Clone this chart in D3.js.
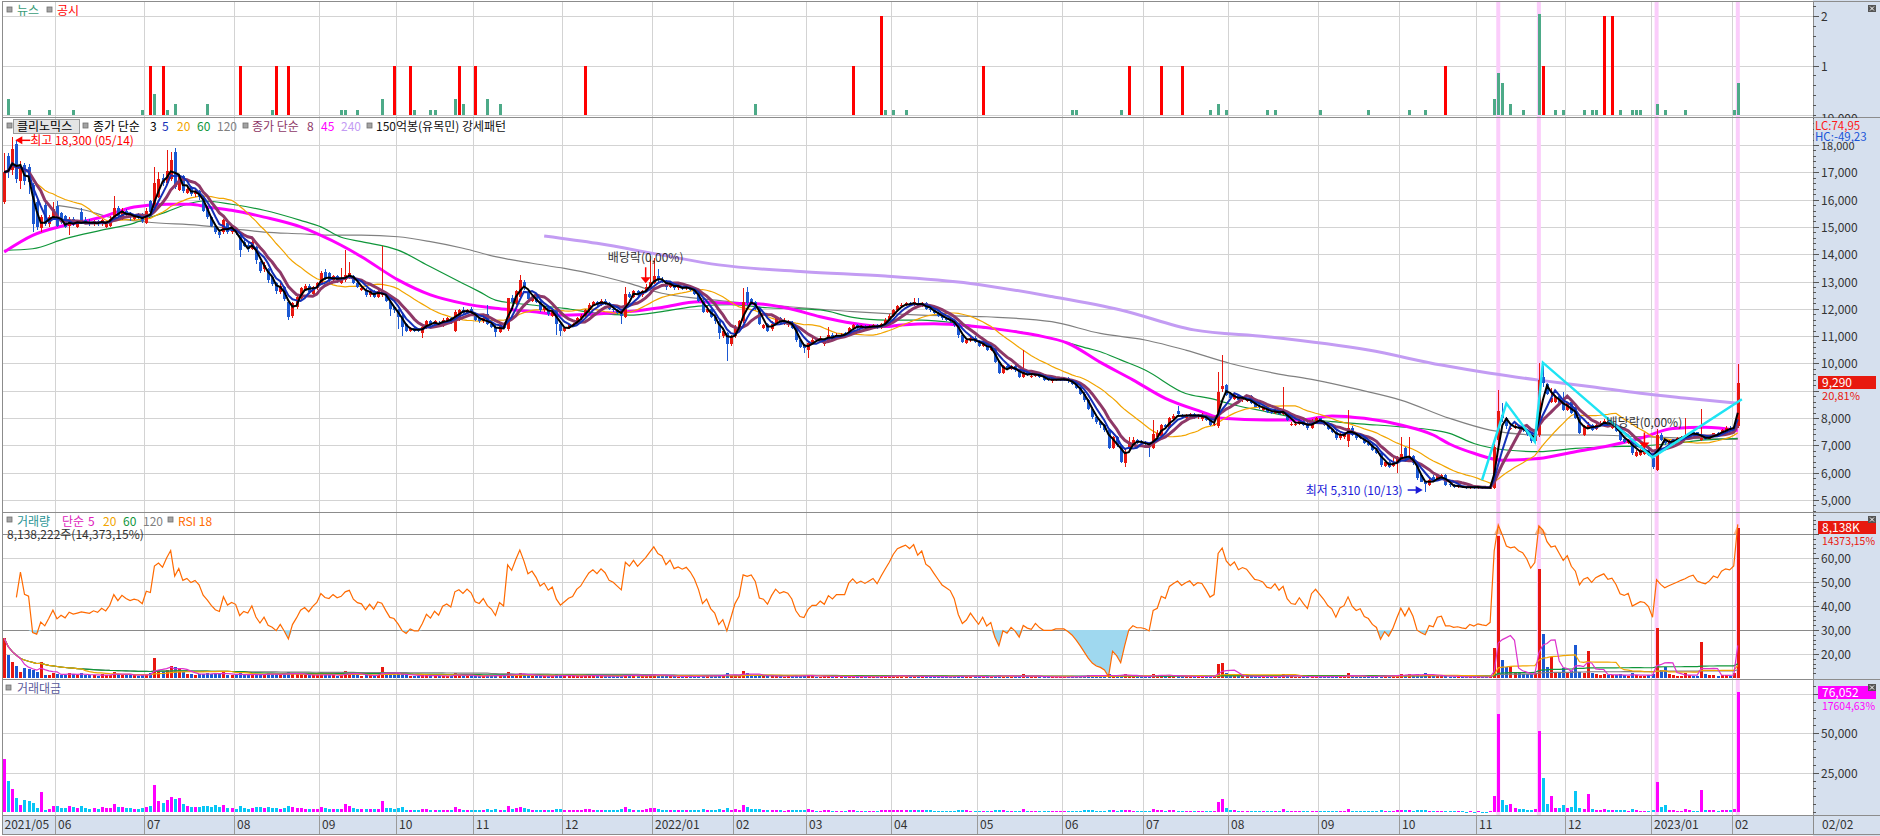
<!DOCTYPE html>
<html><head><meta charset="utf-8">
<script src="https://cdn.jsdelivr.net/npm/d3@7"></script>
<style>
html,body{margin:0;padding:0;background:#fff;overflow:hidden}
svg{display:block;font-family:"Noto Sans CJK KR","Noto Sans",sans-serif}
</style></head><body>
<svg id="c" width="1880" height="836"></svg>
<script>
// ---------------- DATA ----------------
const monthLabels = ["2021/05","06","07","08","09","10","11","12","2022/01","02","03","04","05","06","07","08","09","10","11","12","2023/01","02"];
const monthStarts = [0,13,35,57,78,97,116,138,160,180,198,219,240,261,281,302,324,344,363,385,406,426];
const lastDateLabel = "02/02";

// daily candles [open, high, low, close]
const ohlc = [
// 2021/05
[15900,17700,15850,17000],[17600,17700,16800,17100],[17100,18300,16900,17850],[18050,18200,16600,16750],[16700,17400,16400,17200],[17250,17350,16550,16700],[17200,17300,16200,16650],[16550,16600,14800,15100],[15900,16000,14900,15000],[14950,15450,14800,15350],[15800,15900,15050,15100],[15100,15450,15000,15350],[15350,15900,15300,15650],
// 06
[15750,15950,15000,15050],[15500,15550,15100,15200],[15400,15450,14950,15000],[15050,15350,14700,15250],[15300,15350,15050,15100],[15000,15200,14950,15150],[15550,15700,15100,15200],[15250,15350,15100,15150],[15150,15300,15050,15100],[15100,15250,15050,15200],[15200,15250,15050,15100],[15100,15300,15050,15250],[15000,15150,14950,15100],[15050,15400,15000,15300],[15300,16150,15250,15700],[15700,15750,15350,15400],[15300,15700,15250,15600],[15600,15650,15400,15450],[15500,15550,15200,15350],[15300,15450,15250,15400],[15400,15500,15300,15350],[15450,15500,15150,15200],
// 07
[15150,15700,15100,15600],[15950,16000,15500,15550],[15700,17200,15650,16600],[16100,17000,16050,16750],[16800,16950,16500,16600],[16600,17800,16550,17050],[16750,17750,16700,17450],[17750,17900,16400,16450],[16350,16900,16300,16850],[16850,16900,16250,16300],[16250,16500,16200,16400],[16450,16500,16150,16200],[16200,16400,16100,16300],[16300,16350,16000,16100],[16050,16100,15550,15600],[15700,15750,15300,15350],[15350,15400,15000,15050],[15050,15100,14750,14800],[14800,14900,14600,14700],[14800,15300,14750,15250],[15150,15200,14750,14800],[14800,15000,14750,14900],
// 08
[14900,14950,14700,14800],[14700,14750,13900,14150],[14450,14550,14250,14300],[14350,14400,14100,14200],[14200,14550,14150,14450],[14250,14300,13650,13800],[13700,13750,13300,13400],[13450,13700,13350,13600],[13450,13500,12950,13050],[13150,13200,12850,12900],[12950,13000,12550,12650],[12600,12950,12550,12850],[12800,12850,12300,12350],[12250,12300,11600,11700],[11750,12250,11650,12200],[12050,12500,12000,12450],[12400,12800,12350,12750],[12700,12900,12650,12850],[12850,12900,12550,12600],[12550,12850,12500,12800],[12750,13000,12700,12950],
// 09
[12950,13400,12900,13300],[13350,13450,13050,13100],[13300,13350,12950,13050],[13050,13250,13000,13200],[13200,13250,12950,13050],[12950,13500,12900,13100],[13050,14150,13000,13250],[13150,13700,13100,13300],[13200,13250,12900,12950],[12950,13000,12750,12800],[12700,12850,12650,12750],[12700,12750,12450,12500],[12500,12700,12450,12650],[12650,12700,12400,12450],[12450,12700,12400,12650],[12500,14300,12450,12600],[12500,12550,12250,12300],[12250,12300,11750,12000],[12050,12100,11850,11950],
// 10
[11950,12000,11250,11700],[11750,11800,11000,11350],[11450,11500,11150,11200],[11200,11350,11150,11300],[11300,11350,11150,11200],[11250,11300,11150,11200],[11100,11400,10950,11350],[11300,11600,11250,11550],[11550,11600,11350,11400],[11400,11600,11350,11550],[11500,11550,11350,11400],[11400,11650,11350,11600],[11550,11700,11500,11650],[11650,11700,11450,11550],[11200,11950,11150,11900],[11600,12000,11550,11950],[11950,12050,11800,11850],[11850,12000,11800,11950],[12000,12050,11800,11850],
// 11
[11800,11850,11550,11600],[11650,11700,11500,11550],[11550,11700,11500,11650],[11800,12150,11400,11450],[11450,11500,11300,11350],[11350,11400,10980,11150],[11150,11450,11100,11400],[11400,11450,11250,11300],[11250,12400,11200,12400],[12400,12500,12200,12250],[12200,12700,12150,12650],[12450,13250,12400,13050],[13000,13050,12700,12750],[12600,12650,12300,12350],[12300,12500,12250,12450],[12450,12500,12200,12250],[12250,12300,11900,11950],[11950,12100,11900,12050],[12050,12100,11750,11800],[11750,12000,11700,11900],[11950,12000,11050,11450],[11450,11500,11000,11200],
// 12
[11200,11350,11150,11300],[11300,11450,11250,11400],[11400,11500,11350,11450],[11450,11700,11400,11650],[11650,11800,11600,11750],[11750,12000,11700,11950],[11950,12200,11900,12150],[12150,12300,12100,12250],[12250,12300,12100,12150],[12150,12350,12100,12300],[12300,12350,12150,12200],[12200,12250,11950,12000],[12000,12050,11900,11950],[11950,12000,11800,11850],[11850,11900,11450,11750],[11700,12800,11650,12550],[12550,12600,12400,12450],[12450,12700,12400,12650],[12650,12700,12450,12500],[12500,12700,12450,12650],[12650,12900,12600,12800],[12800,13950,12750,13000],
// 2022/01
[12950,13850,12900,13200],[13200,13450,13000,13050],[13050,13150,12950,13000],[13000,13050,12700,12800],[12800,13000,12750,12950],[12950,13000,12700,12750],[12750,12900,12700,12800],[12800,12850,12700,12750],[12750,12900,12700,12800],[12800,12850,12650,12700],[12700,12750,12500,12550],[12550,12600,12250,12300],[12300,12350,11850,11900],[11900,12100,11850,12000],[12000,12050,11650,11700],[11700,11750,11450,11550],[11550,11600,10900,11100],[11000,11300,10950,11200],[11100,11150,10080,10700],[10700,11050,10650,11000],
// 02
[11000,11400,10950,11350],[11350,11600,11300,11550],[11550,12750,11500,12250],[12600,12800,12100,12200],[12350,12400,12150,12250],[12250,12300,11950,12050],[12000,12050,11400,11450],[11300,11450,11250,11400],[11450,11500,11150,11200],[11250,11550,11200,11450],[11450,11700,11400,11650],[11650,11700,11450,11500],[11450,11650,11400,11550],[11400,11600,11350,11500],[11500,11550,11250,11300],[11300,11350,10800,10850],[10850,10900,10550,10600],[10650,10700,10400,10550],
// 03
[10500,10800,10200,10750],[10750,10950,10700,10850],[10900,10950,10800,10850],[10850,11000,10800,10950],[10700,10900,10650,10850],[10800,11350,10750,11050],[11050,11100,10900,10950],[10950,11100,10900,11050],[11000,11100,10950,11050],[11100,11150,11000,11050],[11100,11350,11050,11300],[11300,11450,11250,11400],[11400,11450,11250,11300],[11300,11400,11250,11350],[11350,11400,11250,11300],[11300,11400,11250,11350],[11350,11450,11300,11400],[11400,11450,11250,11300],[11300,11500,11250,11450],[11450,11650,11400,11600],[11600,11800,11550,11750],
// 04
[11750,12000,11700,11950],[11950,12150,11900,12100],[12100,12200,12050,12150],[12150,12250,12100,12200],[12200,12250,12100,12150],[12150,12400,12100,12250],[12200,12400,12050,12100],[12100,12250,12050,12200],[12200,12250,11950,12000],[12000,12050,11900,11950],[11950,12000,11800,11850],[11850,11900,11700,11750],[11750,11800,11600,11650],[11650,11700,11550,11600],[11600,11650,11500,11550],[11550,11600,11350,11400],[11400,11450,10950,11050],[11050,11100,10750,10800],[10750,10950,10700,10850],[10850,11000,10800,10950],[10950,11000,10750,10800],
// 05
[10800,10850,10600,10650],[10650,10800,10600,10750],[10750,10800,10450,10500],[10500,10600,10450,10550],[10550,10600,10000,10050],[10050,10100,9600,9650],[9650,9950,9600,9900],[9900,9950,9750,9800],[9800,9950,9750,9900],[9900,10000,9700,9750],[9750,9800,9450,9500],[9500,10500,9450,9700],[9700,9750,9550,9600],[9500,9600,9450,9550],[9550,9700,9500,9650],[9650,9700,9450,9500],[9500,9550,9350,9400],[9450,9500,9350,9400],[9350,9450,9300,9400],[9400,9450,9350,9420],[9400,9450,9350,9420],
// 06
[9400,9450,9350,9420],[9450,9500,9300,9350],[9350,9400,9200,9250],[9250,9300,9050,9100],[9100,9150,8850,8900],[8900,8950,8600,8650],[8650,8700,8300,8350],[8350,8400,7950,8050],[8050,8100,7800,7850],[7850,7900,7650,7750],[7750,7800,7500,7550],[7550,7600,6850,6900],[6900,7350,6850,7300],[7300,7350,6950,7000],[7000,7050,6350,6400],[6350,6900,6220,6750],[6850,7300,6800,7100],[7100,7300,7050,7200],[7200,7250,7050,7100],[7150,7200,7050,7100],
// 07
[7100,7150,6950,7050],[7050,7100,6580,6950],[6900,7930,6850,7400],[7300,7550,7250,7450],[7350,7800,7300,7750],[7750,7800,7600,7680],[7650,8050,7600,8000],[7950,8150,7900,8080],[8250,8450,8100,8150],[8100,8150,7950,8030],[8000,8150,7950,8100],[8100,8200,8050,8150],[8150,8200,7950,8030],[8030,8150,7950,8100],[7950,8200,7900,8080],[8080,8100,7900,7930],[7930,7950,7700,7750],[7750,7900,7700,7800],[7700,9700,7650,8950],[9050,10300,8950,9170],[9200,9250,8800,8850],
// 08
[8900,8950,8700,8720],[8700,8900,8650,8850],[8850,8900,8600,8650],[8650,8800,8600,8720],[8650,8750,8600,8680],[8800,8850,8500,8550],[8550,8600,8400,8420],[8450,8500,8350,8400],[8300,8400,8250,8360],[8360,8400,8200,8230],[8230,8300,8150,8200],[8200,8350,8150,8300],[8300,8350,8100,8150],[8150,9150,8100,8230],[8230,8250,7900,7930],[7750,7850,7700,7800],[7750,7850,7700,7780],[7780,7950,7750,7900],[7900,7950,7700,7750],[7800,7850,7550,7620],[7650,7950,7600,7900],[7900,8050,7850,7990],
// 09
[7990,8000,7800,7870],[7870,7900,7700,7750],[7750,7800,7550,7590],[7590,7600,7450,7500],[7500,7550,7200,7260],[7260,7450,7200,7420],[7300,7500,7250,7460],[7150,8300,6950,7620],[7650,7700,7350,7380],[7380,7400,7200,7260],[7300,7350,7250,7290],[7290,7300,7050,7070],[7100,7150,6980,7010],[7010,7050,6800,6830],[6830,6900,6700,6730],[6730,6750,6200,6280],[6250,6450,6200,6400],[6400,6450,6180,6220],[6250,6550,6200,6340],[6350,6600,5980,6520],
// 10
[6500,7320,6450,6700],[6900,6950,6400,6460],[6450,7320,6400,6610],[6600,6650,6300,6340],[6350,6400,5750,5790],[5900,5950,5650,5670],[5670,5700,5310,5580],[5550,5800,5500,5750],[5850,5900,5650,5700],[5750,5920,5700,5880],[5860,5950,5820,5900],[5900,5950,5500,5550],[5600,5650,5480,5550],[5550,5600,5450,5490],[5480,5550,5450,5500],[5500,5520,5430,5460],[5460,5500,5400,5440],[5440,5520,5420,5500],[5500,5520,5420,5450],
// 11
[5430,5520,5400,5480],[5480,5500,5420,5450],[5450,5480,5400,5430],[5420,5500,5400,5470],[5430,7050,5400,6950],[7200,9030,7000,8250],[8100,8550,7850,8000],[8000,8050,7600,7700],[7600,7800,7550,7650],[7650,7800,7600,7700],[7700,7750,7550,7600],[7600,7650,7500,7550],[7550,7600,7350,7400],[7400,7450,7100,7150],[7150,7450,7100,7350],[7380,10000,7300,9400],[9500,9900,9150,9270],[9250,9300,8850,8900],[8600,9100,8550,8720],[8600,8850,8550,8780],[8800,8850,8500,8540],[8650,8950,8250,8300],
// 12
[8300,8600,8250,8540],[8600,8650,8150,8170],[8400,8450,7950,7990],[8000,8050,7400,7440],[7380,7750,7350,7680],[7620,7850,7600,7750],[7750,7800,7520,7560],[7600,7800,7580,7750],[7720,7900,7700,7830],[7800,7950,7780,7900],[7900,7950,7680,7710],[7650,7800,7600,7750],[7750,7780,7500,7540],[7480,7500,7150,7200],[7250,7300,7100,7140],[7100,7250,7050,7200],[7200,7220,6650,6710],[6600,6820,6580,6770],[6650,6880,6620,6830],[6700,6850,6650,6800],[6830,6850,6600,6650],
// 2023/01
[6550,6600,6150,6220],[6100,7600,6050,7380],[7380,7450,7150,7200],[7200,7250,7000,7070],[7050,7200,7000,7140],[7140,7250,7100,7200],[7200,7300,7150,7260],[7260,7350,7220,7320],[7300,8000,7250,7370],[7380,7480,7350,7440],[7500,7550,7450,7480],[7480,7500,7300,7320],[7200,8350,7150,7280],[7280,7350,7200,7250],[7250,7350,7220,7320],[7320,7450,7300,7440],[7440,7480,7380,7400],[7400,7600,7380,7560],[7560,7700,7520,7620],[7650,7700,7550,7600],
// 02
[7600,7750,7550,7690],[7700,9990,7650,9290]
];

// volume, thousand shares
const volume = [
2150,1250,885,670,340,560,490,434,300,880,163,140,260,
230,170,180,250,200,160,260,150,140,170,130,190,150,160,330,200,210,150,160,140,130,180,
220,260,1080,430,330,460,650,600,540,300,240,200,180,210,240,260,230,280,200,300,180,160,
150,280,160,140,170,220,230,180,260,190,200,170,220,320,250,200,190,150,140,160,150,
220,170,150,140,130,150,400,300,180,140,130,160,140,130,150,620,190,210,150,
220,260,140,110,100,90,150,160,120,110,100,120,110,100,260,170,120,110,100,
120,100,110,170,110,150,130,100,300,160,200,260,180,140,110,100,120,90,110,100,190,150,
110,100,90,110,120,140,150,120,100,110,90,100,90,90,140,230,130,110,100,120,150,220,
200,150,100,110,100,90,80,80,90,80,100,110,150,100,120,110,170,130,260,140,
140,130,380,260,150,140,160,110,100,100,110,90,80,90,100,140,120,130,
150,100,80,80,90,120,80,70,70,60,90,100,70,70,60,70,70,60,90,110,120,
130,120,100,90,80,110,100,80,90,80,70,70,70,60,60,80,130,120,90,80,70,
70,60,80,60,130,160,110,80,70,80,100,190,90,70,70,80,70,60,60,50,50,
50,60,70,80,100,120,150,170,120,100,110,190,160,110,180,200,140,100,80,70,
70,110,230,140,160,100,150,130,110,90,80,80,80,80,90,80,90,80,750,800,260,
170,140,110,100,90,100,90,80,80,80,70,70,80,230,110,90,70,70,60,80,90,80,
70,70,80,70,110,80,70,260,110,80,60,80,70,90,80,170,110,100,120,170,
220,150,190,120,210,180,250,160,110,110,90,140,80,70,60,60,50,60,50,
60,50,50,60,1610,7720,980,580,630,300,250,220,200,220,260,5914,2387,580,1157,300,270,540,
300,400,1790,300,280,1450,250,200,180,220,150,160,140,200,150,120,250,150,130,120,140,
200,2713,434,600,200,150,120,130,250,150,120,130,1950,200,160,150,110,150,180,130,
250,8138
];

// trading value, million KRW
const tradeValue = [
33800,19950,14650,9100,4460,7640,7000,5730,2760,12740,1490,2150,4070,
3500,2580,2740,3810,3030,2420,3950,2280,2120,2580,1970,2900,2270,2450,5130,3100,3260,2320,2450,2150,2000,2750,
3430,4050,17200,7000,5500,7750,9770,8490,8900,4900,3900,3250,2920,3380,3750,3990,3460,4150,2940,4500,2700,2380,
2220,3960,2290,1990,2460,3040,3080,2450,3390,2450,2530,2180,2720,3740,3050,2490,2420,1930,1760,2050,1940,
2930,2230,1960,1850,1700,1970,5300,3990,2330,1790,1660,2000,1770,1620,1900,7200,2340,2520,1790,
2570,2950,1570,1240,1120,1010,1700,1850,1370,1270,1140,1390,1280,1155,3090,2030,1420,1310,1185,
1390,1155,1280,1950,1250,1670,1480,1130,3720,1960,2530,3390,2290,1730,1370,1230,1430,1080,1300,1190,2170,1680,
1240,1140,1030,1280,1410,1670,1820,1470,1215,1350,1100,1200,1075,1065,1645,2890,1620,1390,1250,1520,1920,2860,
2640,1960,1300,1410,1295,1150,1020,1020,1150,1015,1255,1350,1790,1200,1400,1270,1890,1460,2780,1540,
1590,1500,4660,3170,1840,1690,1830,1250,1120,1145,1280,1035,925,1035,1130,1520,1270,1370,
1610,1085,870,875,975,1330,875,775,775,665,1015,1140,790,795,680,795,800,680,1030,1280,1410,
1550,1450,1215,1100,975,1350,1210,975,1080,955,830,820,815,695,695,910,1440,1300,975,875,755,
745,645,840,635,1310,1540,1090,785,690,780,950,1840,865,670,675,760,660,565,565,470,470,
470,560,650,730,890,1040,1250,1370,940,775,830,1310,1170,770,1150,1350,990,720,570,500,
495,765,1700,1040,1240,770,1200,1050,900,720,650,650,640,650,730,635,700,625,6300,8300,2300,
1480,1240,950,870,780,855,760,670,670,660,575,580,655,1950,870,700,545,550,465,610,705,640,
550,540,605,525,800,595,520,2000,810,580,437,565,490,615,540,1070,700,622,760,1110,
1500,970,1260,760,1220,1020,1400,920,627,647,531,777,444,384,330,328,272,330,273,
329,273,272,328,10400,62400,7900,4470,4820,2300,1900,1660,1480,1570,1910,51600,21700,5160,10100,2630,2310,4490,
2560,3270,13400,2230,2150,11200,1890,1550,1410,1740,1160,1240,1060,1440,1070,864,1680,1020,890,816,931,
1244,19100,3125,4240,1430,1080,871,952,1843,1116,898,952,14300,1450,1170,1116,814,1134,1372,988,
1922,76052
];

// news counts (뉴스) and disclosures (공시): bar index -> count
const newsIdx = [1,6,11,17,34,37,40,42,50,66,83,84,87,93,101,105,106,111,113,119,122,185,217,219,222,263,264,275,297,299,301,311,313,324,336,346,350,367,368,369,371,374,378,382,384,389,391,392,398,401,402,403,407,409,414,426,427];
const newsCnt = [3,1,1,1,1,4,1,2,2,1,1,1,1,3,1,1,1,3,2,3,2,2,1,1,1,1,1,1,1,2,1,1,1,1,1,1,1,3,8,6,2,1,19,1,1,1,1,1,1,1,1,1,2,1,1,1,6];
const discIdx = [36,39,58,67,70,96,100,112,116,143,209,216,241,277,285,290,355,379,394,396];
const discCnt = [1,1,1,1,1,1,1,1,1,1,1,2,1,1,1,1,1,1,2,2];

// long moving averages: [bar index, value]
const ma45Pts = [[0,14080],[7,14690],[15,15060],[24,15360],[32,15730],[40,15830],[46,15830],[50,15730],[56,15610],[64,15360],[73,15000],[78,14690],[83,14330],[88,13910],[97,13060],[105,12510],[113,12200],[121,12020],[130,11900],[138,11770],[146,11810],[154,11900],[162,12050],[171,12260],[179,12200],[184,12200],[193,12020],[201,11710],[209,11470],[217,11350],[221,11410],[229,11450],[238,11370],[246,11230],[254,11040],[262,10740],[270,10040],[278,9400],[286,8720],[295,8230],[300,7990],[311,7930],[319,7930],[327,8080],[335,7990],[344,7745],[352,7380],[356,7050],[362,6710],[369,6460],[378,6520],[387,6770],[395,6980],[403,7260],[411,7620],[419,7660],[427,7540]];
const ma60Pts = [[0,14140],[7,14200],[15,14570],[24,14880],[32,15140],[35,15300],[40,15550],[45,15830],[49,15950],[56,15830],[64,15610],[73,15240],[78,15000],[83,14620],[88,14460],[97,14150],[105,13540],[113,12930],[117,12630],[121,12320],[130,12140],[138,12020],[146,11840],[154,11770],[162,11900],[171,12100],[179,12150],[188,12040],[201,11960],[209,11690],[217,11590],[226,11590],[234,11490],[242,11290],[250,11160],[258,10920],[267,10550],[270,10430],[275,10130],[281,9760],[291,8900],[297,8720],[303,8480],[311,8230],[319,7990],[327,7870],[335,7780],[344,7680],[352,7560],[356,7440],[362,7070],[370,6830],[378,6770],[387,6890],[395,6950],[403,6980],[411,7070],[419,7200],[427,7260]];
const ma120Pts = [[13,15790],[20,15610],[26,15360],[35,15180],[48,15060],[56,14940],[64,14810],[73,14750],[80,14700],[88,14700],[97,14640],[105,14460],[113,14220],[121,13910],[130,13670],[138,13480],[146,13240],[154,12930],[162,12570],[171,12380],[179,12260],[193,12080],[209,11900],[226,11770],[242,11710],[258,11530],[270,11100],[281,10860],[291,10490],[302,10000],[313,9640],[323,9390],[334,9030],[344,8660],[356,7990],[366,7560],[378,7380],[391,7380],[403,7320],[415,7260],[427,7220]];
const ma240Pts = [[133,14670],[146,14400],[162,13970],[176,13610],[197,13360],[217,13200],[238,12930],[258,12450],[275,11960],[293,11230],[311,10980],[336,10490],[354,9940],[366,9640],[378,9390],[391,9150],[403,8910],[415,8720],[427,8540]];

// 150억봉 강세패턴 zig-zag
const patternPts = [[364,5730],[370,8540],[377,7140],[379,10030],[406,6560],[428,8690]];
// ex-dividend marks
const exDivIdx = [158,404];
const exDivText = "배당락(0,00%)";
const highIdx = 2, lowIdx = 350;

const priceTicks = [5000,6000,7000,8000,9000,10000,11000,12000,13000,14000,15000,16000,17000,18000];
const rsiTicks = [20,30,40,50,60];
const tvTicks = [25000,50000];

// ---------------- DRAW ----------------
const RED="#e8170f", BLUE="#1b58d2", MAG="#ff00ff", CYAN="#08c6f6";
const PL=2, PR=1813;
const svg=d3.select("#c");
const defs=svg.append("defs");
function mkClip(id,y0,y1){defs.append("clipPath").attr("id",id).append("rect").attr("x",PL).attr("y",y0).attr("width",PR-PL).attr("height",y1-y0);return "url(#"+id+")";}
const cTop=mkClip("ct",1,117), cPrice=mkClip("cp",117,512), cVol=mkClip("cv",512,679), cTv=mkClip("ctv",679,815);

const N=ohlc.length;
const x=d3.scaleLinear([0,427],[4.2,1737.8]);
const yTop=d3.scaleLinear([0,2],[115,16]);
const yNews=d3.scaleLinear([0,20],[115,9]);
const yP=d3.scaleLinear([5000,18000],[500,145]);
const yVol=d3.scaleLinear([0,8138],[678,528]);
const yRsi=d3.scaleLinear([20,70],[654,534]);
const yTv=d3.scaleLinear([0,75000],[812,694]);

const opens=ohlc.map(d=>d[0]), closes=ohlc.map(d=>d[3]);
const isUp=i=>closes[i]>=opens[i];
function sma(a,n){return a.map((_,i)=>{const s=Math.max(0,i-n+1);let t=0;for(let k=s;k<=i;k++)t+=a[k];return t/(i-s+1);});}

svg.append("rect").attr("width",1880).attr("height",836).attr("fill","#fff");
svg.append("rect").attr("x",PR).attr("y",0).attr("width",1880-PR).attr("height",836).attr("fill","#d6e0ee");
svg.append("rect").attr("x",PL).attr("y",815).attr("width",PR-PL).attr("height",19).attr("fill","#d6e0ee");

// grid
const grid=svg.append("g").attr("stroke","#d3d3d3").attr("shape-rendering","crispEdges");
const gx=i=>Math.round(x(i)-2.03)+0.5;
monthStarts.forEach((s,k)=>{if(k>0)grid.append("line").attr("x1",gx(s)).attr("x2",gx(s)).attr("y1",1).attr("y2",815);});
function hl(g,y,col){g.append("line").attr("x1",PL).attr("x2",PR).attr("y1",Math.round(y)+0.5).attr("y2",Math.round(y)+0.5).attr("stroke",col||"#d3d3d3");}
[0,1,2].forEach(v=>hl(grid,yTop(v)));
priceTicks.forEach(v=>hl(grid,yP(v)));
[20,40,50,60].forEach(v=>hl(grid,yRsi(v)));
tvTicks.concat([75000]).forEach(v=>hl(grid,yTv(v)));
const dk=svg.append("g").attr("shape-rendering","crispEdges");
[30,70].forEach(v=>hl(dk,yRsi(v),"#8a8a8a"));

// 150억봉 bands: trading value >= 15,000M and a rise of 10%+ on the day
const bandIdx=d3.range(1,N).filter(i=>tradeValue[i]>=15000&&closes[i]/closes[i-1]-1>=0.1);
svg.append("g").selectAll("rect").data(bandIdx).join("rect")
 .attr("x",i=>x(i)-2).attr("width",4).attr("y",1).attr("height",814).attr("fill","#fbcdfb");

// ---- top panel: news / disclosures
const gT=svg.append("g").attr("clip-path",cTop).attr("shape-rendering","crispEdges");
gT.selectAll(".n").data(newsIdx).join("rect").attr("x",(d)=>Math.round(x(d))-1).attr("width",3)
 .attr("y",(d,k)=>yNews(newsCnt[k])).attr("height",(d,k)=>yNews(0)-yNews(newsCnt[k])).attr("fill","#4daa88");
gT.selectAll(".d").data(discIdx).join("rect").attr("x",(d)=>Math.round(x(d))-1).attr("width",3)
 .attr("y",(d,k)=>yTop(discCnt[k])).attr("height",(d,k)=>yTop(0)-yTop(discCnt[k])).attr("fill","#ff0000");

// ---- price panel
const gP=svg.append("g").attr("clip-path",cPrice);
const lineS=d3.line().x(d=>x(d[0])).y(d=>yP(d[1])).curve(d3.curveMonotoneX);
const lineC=d3.line().x((d,i)=>x(i)).y(d=>yP(d));
gP.append("path").attr("d",lineS(ma240Pts)).attr("fill","none").attr("stroke","#c39cf3").attr("stroke-width",3);
gP.append("path").attr("d",lineS(ma120Pts)).attr("fill","none").attr("stroke","#808080").attr("stroke-width",1.2);
gP.append("path").attr("d",lineS(ma60Pts)).attr("fill","none").attr("stroke","#10963a").attr("stroke-width",1.2);
gP.append("path").attr("d",lineS(ma45Pts)).attr("fill","none").attr("stroke",MAG).attr("stroke-width",3);
gP.append("path").attr("d",lineC(sma(closes,20))).attr("fill","none").attr("stroke","#f2a500").attr("stroke-width",1.2);
// candles
const gc=gP.append("g").attr("shape-rendering","crispEdges");
gc.selectAll("line").data(ohlc).join("line")
 .attr("x1",(d,i)=>Math.round(x(i))+0.5).attr("x2",(d,i)=>Math.round(x(i))+0.5)
 .attr("y1",d=>yP(d[1])).attr("y2",d=>yP(d[2])).attr("stroke",(d,i)=>isUp(i)?RED:BLUE);
gc.selectAll("rect").data(ohlc).join("rect")
 .attr("x",(d,i)=>Math.round(x(i))-1).attr("width",3)
 .attr("y",d=>yP(Math.max(d[0],d[3]))).attr("height",d=>Math.max(1,yP(Math.min(d[0],d[3]))-yP(Math.max(d[0],d[3]))))
 .attr("fill",(d,i)=>isUp(i)?RED:BLUE);
gP.append("path").attr("d",lineC(sma(closes,8))).attr("fill","none").attr("stroke","#8e3867").attr("stroke-width",3);
gP.append("path").attr("d",lineC(sma(closes,5))).attr("fill","none").attr("stroke","#1430b8").attr("stroke-width",2);
gP.append("path").attr("d",lineC(sma(closes,3))).attr("fill","none").attr("stroke","#000").attr("stroke-width",2);
// pattern
gP.append("path").attr("d",d3.line().x(d=>x(d[0])).y(d=>yP(d[1]))(patternPts)).attr("fill","none").attr("stroke","#1ee4f4").attr("stroke-width",2.5);
// ex-dividend
exDivIdx.forEach(i=>{
  const cx=x(i), tip=yP(ohlc[i][1])-1;
  gP.append("line").attr("x1",cx).attr("x2",cx).attr("y1",tip-16).attr("y2",tip-5).attr("stroke","#ff0000").attr("stroke-width",1.5);
  gP.append("path").attr("d",`M${cx-5},${tip-6}L${cx+5},${tip-6}L${cx},${tip}Z`).attr("fill","#ff0000");
  gP.append("text").attr("x",cx).attr("y",tip-21).attr("text-anchor","middle").attr("font-size",12).attr("fill","#333").text(exDivText);
});
// high / low labels
{
  const hx=x(highIdx)+3, hy=yP(ohlc[highIdx][1])+3.5;
  gP.append("line").attr("x1",hx+5).attr("x2",hx+15).attr("y1",hy).attr("y2",hy).attr("stroke","#ff0000").attr("stroke-width",1.5);
  gP.append("path").attr("d",`M${hx},${hy}L${hx+7},${hy-4}L${hx+7},${hy+4}Z`).attr("fill","#ff0000");
  gP.append("text").attr("x",hx+15).attr("y",hy+5).attr("font-size",12).attr("fill","#ff0000").text("최고 18,300 (05/14)");
  const lx=x(lowIdx)-2.5, ly=yP(ohlc[lowIdx][2])-1.5;
  gP.append("line").attr("x1",lx-15).attr("x2",lx-5).attr("y1",ly).attr("y2",ly).attr("stroke","#1a1ad8").attr("stroke-width",1.5);
  gP.append("path").attr("d",`M${lx},${ly}L${lx-7},${ly-4}L${lx-7},${ly+4}Z`).attr("fill","#1a1ad8");
  gP.append("text").attr("x",lx-20).attr("y",ly+5).attr("text-anchor","end").attr("font-size",12).attr("fill","#1a1ad8").text("최저 5,310 (10/13)");
}

// ---- volume + RSI panel
const gV=svg.append("g").attr("clip-path",cVol);
let ag=0,al=0;const rsi=[null];
for(let i=1;i<N;i++){const ch=closes[i]-closes[i-1],g=Math.max(ch,0),l=Math.max(-ch,0);
  if(i<=18){ag=(ag*(i-1)+g)/i;al=(al*(i-1)+l)/i;}else{ag=(ag*17+g)/18;al=(al*17+l)/18;}
  rsi.push(al===0?100:100-100/(1+ag/al));}
const rp=rsi.map((r,i)=>[i,r]).filter(d=>d[0]>=3);
gV.append("path").attr("d",d3.area().x(d=>x(d[0])).y0(yRsi(70)).y1(d=>yRsi(Math.max(70,d[1])))(rp)).attr("fill","#f7b48c");
gV.append("path").attr("d",d3.area().x(d=>x(d[0])).y0(yRsi(30)).y1(d=>yRsi(Math.min(30,d[1])))(rp)).attr("fill","#9fd8ef");
gV.append("g").attr("shape-rendering","crispEdges").selectAll("rect").data(volume).join("rect")
 .attr("x",(d,i)=>Math.round(x(i))-1).attr("width",3).attr("y",d=>yVol(d)).attr("height",d=>Math.max(1,yVol(0)-yVol(d)))
 .attr("fill",(d,i)=>isUp(i)?RED:BLUE);
const lineV=d3.line().x((d,i)=>x(i)).y(d=>yVol(d));
[[120,"#808080"],[60,"#10963a"],[20,"#f2a500"],[5,"#dd33cc"]].forEach(([n,c])=>{
  gV.append("path").attr("d",lineV(sma(volume,n))).attr("fill","none").attr("stroke",c).attr("stroke-width",1.2);});
gV.append("path").attr("d",d3.line().x(d=>x(d[0])).y(d=>yRsi(d[1]))(rp)).attr("fill","none").attr("stroke","#ff6a00").attr("stroke-width",1.2);

// ---- trading value panel
const gTv=svg.append("g").attr("clip-path",cTv).attr("shape-rendering","crispEdges");
gTv.selectAll("rect").data(tradeValue).join("rect")
 .attr("x",(d,i)=>Math.round(x(i))-1).attr("width",3).attr("y",d=>yTv(d)).attr("height",d=>Math.max(1,yTv(0)-yTv(d)))
 .attr("fill",(d,i)=>isUp(i)?MAG:CYAN);

// ---- frames
const fr=svg.append("g").attr("stroke","#8c8c8c").attr("shape-rendering","crispEdges");
[1,117,512,679,815,834].forEach(y=>fr.append("line").attr("x1",PL).attr("x2",1880).attr("y1",y+0.5).attr("y2",y+0.5));
[PL,PR].forEach(xx=>fr.append("line").attr("x1",xx+0.5).attr("x2",xx+0.5).attr("y1",1).attr("y2",834));

// ---- legends
function sq(g,xx,y){g.append("rect").attr("x",xx).attr("y",y).attr("width",5).attr("height",5).attr("fill","#a3a3a3").attr("stroke","#6f6f6f").attr("stroke-width",0.8);}
function tx(g,xx,y,t,c){g.append("text").attr("x",xx).attr("y",y).attr("font-size",12).attr("fill",c).text(t);}
const lg=svg.append("g");
sq(lg,7,7);tx(lg,17,15,"뉴스","#3a9c78");sq(lg,47,7);tx(lg,57,15,"공시","#ff0000");
sq(lg,7,123);
lg.append("rect").attr("x",13.5).attr("y",119.5).attr("width",66).attr("height",14).attr("fill","#e4e4e4").attr("stroke","#9a9a9a");
tx(lg,17,131,"클리노믹스","#000");
sq(lg,83,123);tx(lg,93,131,"종가 단순","#000");tx(lg,150,131,"3","#000");tx(lg,162,131,"5","#1430b8");
tx(lg,177,131,"20","#f2a500");tx(lg,197,131,"60","#10963a");tx(lg,217,131,"120","#808080");
sq(lg,243,123);tx(lg,252,131,"종가 단순","#8e3867");tx(lg,307,131,"8","#8e3867");tx(lg,321,131,"45",MAG);tx(lg,341,131,"240","#c39cf3");
sq(lg,367,123);tx(lg,376,131,"150억봉(유목민) 강세패턴","#111");
sq(lg,7,517);tx(lg,17,526,"거래량","#2a9494");tx(lg,62,526,"단순","#dd22bb");tx(lg,88,526,"5","#dd22bb");
tx(lg,103,526,"20","#f2a500");tx(lg,123,526,"60","#10963a");tx(lg,143,526,"120","#808080");
sq(lg,168,517);tx(lg,178,526,"RSI 18","#ff6a00");
tx(lg,7,539,"8,138,222주(14,373,15%)","#333");
sq(lg,6,685);tx(lg,17,693,"거래대금","#5a5a9c");

// ---- right axis
const ax=svg.append("g").attr("font-size",12).attr("fill","#333");
function ticks(vals,sc,major,fmt,skip){
  vals.forEach(v=>{const y=Math.round(sc(v))+0.5;const m=major(v);
    ax.append("line").attr("x1",PR).attr("x2",PR+(m?6:3)).attr("y1",y).attr("y2",y).attr("stroke","#555").attr("shape-rendering","crispEdges");
    if(m&&!(skip&&skip(v)))ax.append("text").attr("x",PR+8).attr("y",y).attr("dy","0.35em").text(fmt(v));});
}
const fmtK=v=>d3.format(",")(v);
ticks(d3.range(0,2.3,0.2).map(v=>+v.toFixed(1)),yTop,v=>Math.abs(v-Math.round(v))<1e-6&&v>0,v=>String(v));
ticks(d3.range(4600,19001,200),yP,v=>v%1000===0,fmtK,v=>v===9000||v===18000);
ticks(d3.range(12,79,2),yRsi,v=>v%10===0,v=>v+",00",v=>v===70);
ticks(d3.range(0,80001,5000),yTv,v=>v%25000===0&&v>0,fmtK,v=>v===75000);
// LC / HC (covering the 18,000 label)
ax.append("text").attr("x",PR+8).attr("y",yP(18000)+5).attr("font-size",11).text("18,000").attr("clip-path",null);
ax.append("rect").attr("x",PR+1).attr("y",118).attr("width",66).attr("height",24).attr("fill","#d6e0ee");
ax.append("text").attr("x",PR+2).attr("y",130).attr("fill","#ff1a1a").attr("font-size",11.5).text("LC:74,95");
ax.append("text").attr("x",PR+2).attr("y",141).attr("fill","#1a55d8").attr("font-size",11.5).text("HC:-49,23");
// value tags
function tag(y,bg,t1,t2,c2){ax.append("rect").attr("x",1818).attr("y",y).attr("width",58).attr("height",13).attr("fill",bg);
  ax.append("text").attr("x",1822).attr("y",y+11).attr("fill","#fff").text(t1);
  ax.append("text").attr("x",1822).attr("y",y+23.5).attr("fill",c2).attr("font-size",11).attr("textLength",t2.length>7?53:38).attr("lengthAdjust","spacingAndGlyphs").text(t2);}
tag(376,"#e8190f",d3.format(",")(closes[N-1]),"20,81%","#e8190f");
tag(521,"#e8190f",d3.format(",")(volume[N-1])+"K","14373,15%","#e8190f");
tag(686,MAG,d3.format(",")(tradeValue[N-1]),"17604,63%",MAG);
// small close icons
[5,516,684].forEach(y=>{ax.append("rect").attr("x",1868).attr("y",y).attr("width",8).attr("height",7).attr("fill","#555");
  ax.append("path").attr("d",`M${1870},${y+1.5}L${1874},${y+5.5}M${1874},${y+1.5}L${1870},${y+5.5}`).attr("stroke","#fff").attr("stroke-width",1);});

// ---- x axis
const xa=svg.append("g").attr("font-size",12).attr("fill","#333");
monthStarts.forEach((s,k)=>{
  const xx=k===0?PL:gx(s);
  if(k>0)xa.append("line").attr("x1",xx).attr("x2",xx).attr("y1",815).attr("y2",834).attr("stroke","#9a9a9a").attr("shape-rendering","crispEdges");
  xa.append("text").attr("x",xx+2.5).attr("y",829).text(monthLabels[k]);
});
xa.append("text").attr("x",PR+9).attr("y",829).text(lastDateLabel);
</script>
</body></html>
